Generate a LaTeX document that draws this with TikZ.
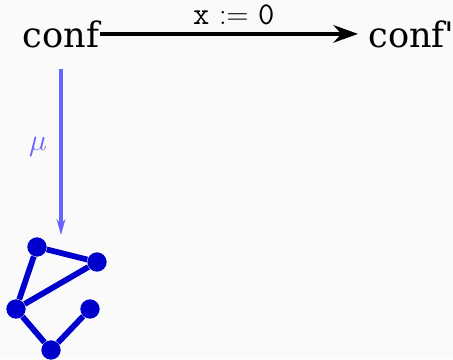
\documentclass[tikz,border=0pt]{standalone}
\usepackage{fontspec}
\newfontfamily\conffont{DejaVu Serif}
\usetikzlibrary{arrows.meta}
\definecolor{bgc}{HTML}{FAFAFA}
\definecolor{mucol}{HTML}{6666FF}
\definecolor{gcol}{HTML}{0000CC}
\begin{document}
\begin{tikzpicture}[x=0.02cm,y=-0.02cm,
	conf/.style={ inner sep=0pt, font=\conffont\fontsize{20}{24}\selectfont },
	vertex/.style={ circle, fill=gcol, inner sep=0pt, minimum size=11pt },
	edge/.style={ gcol, line width=3.3pt },
	trans/.style={ line width=1.9pt, -{Stealth[length=14pt,width=10pt]} },
	mapto/.style={ mucol, line width=2pt, -{Stealth[length=9pt,width=5pt]} }
]
\fill[bgc] (0,0) rectangle (453,359);
\useasboundingbox (0,0) rectangle (453,359);

\node at (61,47) (c) [conf,anchor=base] {conf};
\node at (368,47) (cp) [conf,anchor=base west] {conf'};
\draw[trans,shorten >=5.7pt] (c.east) to node[above=1pt,font=\fontsize{18}{21}\selectfont] {\texttt{x} $:=$ \texttt{0}} (c.east -| cp.west);

\coordinate (gtop) at (61,235);
\draw[mapto,shorten <=12pt] (c.south) to node[midway,left=7pt,yshift=-3pt,inner sep=0pt,font=\fontsize{16}{19}\selectfont] {$\mu$} (gtop);

\node at (37,247) (g1) [vertex] {};
\node at (97,262) (g2) [vertex] {};
\node at (16,309) (g3) [vertex] {};
\node at (90,309) (g4) [vertex] {};
\node at (51,350) (g5) [vertex] {};
\draw[edge] (g1) -- (g2) -- (g3) -- (g1);
\draw[edge] (g3) -- (g5) -- (g4);

\end{tikzpicture}
\end{document}
